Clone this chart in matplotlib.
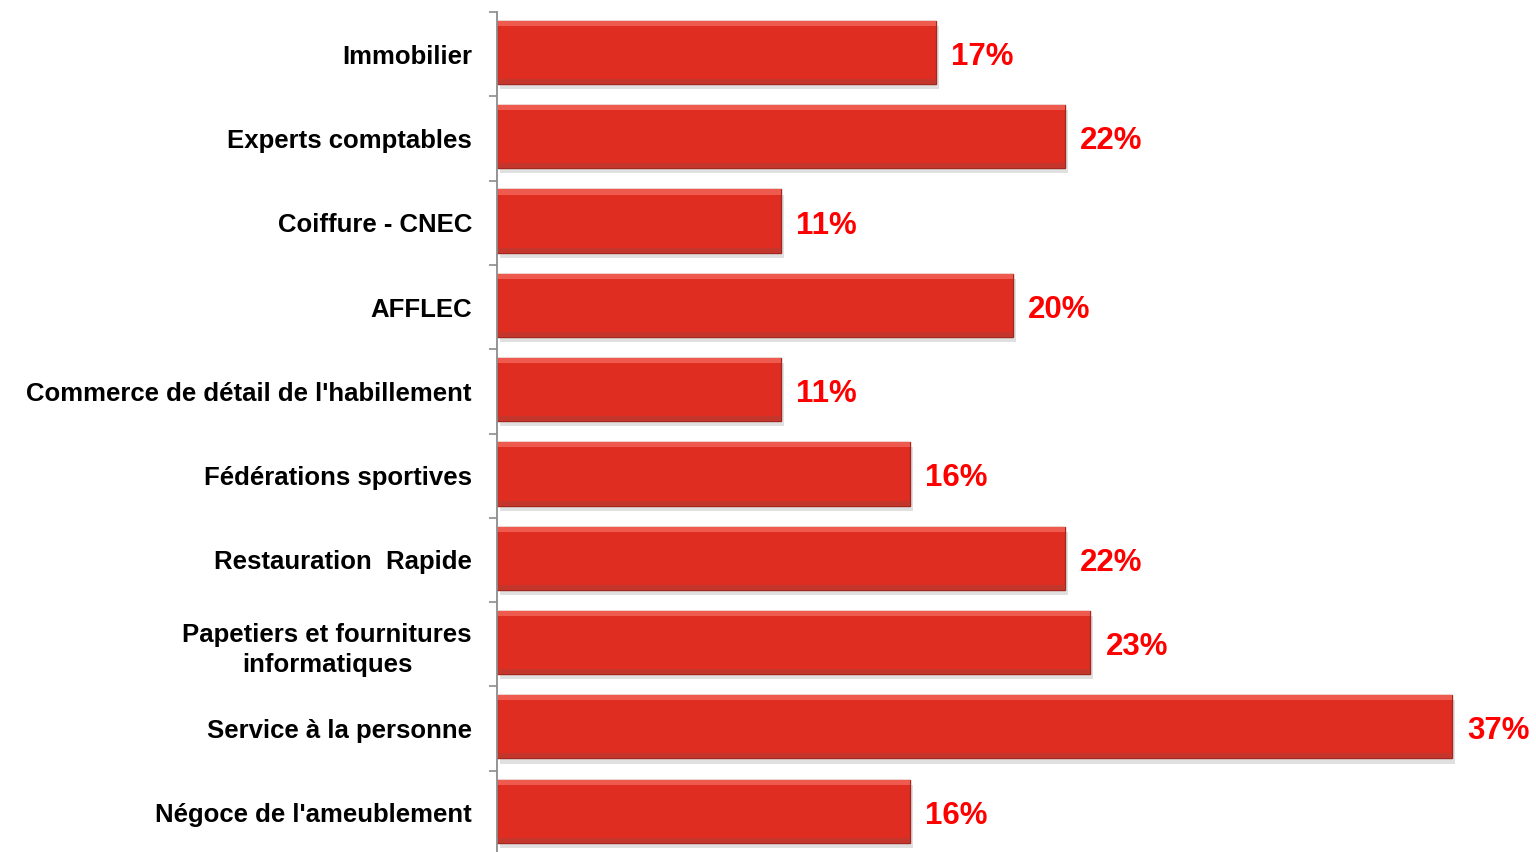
import matplotlib.pyplot as plt
import numpy as np

# Données du graphique (de haut en bas)
categories = [
    "Immobilier",
    "Experts comptables",
    "Coiffure - CNEC",
    "AFFLEC",
    "Commerce de détail de l'habillement",
    "Fédérations sportives",
    "Restauration  Rapide",
    "Papetiers et fournitures\ninformatiques",
    "Service à la personne",
    "Négoce de l'ameublement",
]
valeurs = [17, 22, 11, 20, 11, 16, 22, 23, 37, 16]

plt.rcParams['font.family'] = ['Liberation Sans', 'DejaVu Sans']

fig = plt.figure(figsize=(15.36, 8.52), dpi=100)
ax = fig.add_axes([497 / 1536, 1 - 855 / 852, 1032 / 1536, 843 / 852])

n = len(categories)
y = np.arange(n)[::-1]
h = 0.75

# ombre
ax.barh(y - 0.04, valeurs, height=h, left=0.12, color='#9a9a9a', alpha=0.3, zorder=1)
# barre principale
ax.barh(y + 0.02, valeurs, height=h, color='#E02D22', edgecolor='#A02820', linewidth=1.0, zorder=2)
# biseau haut / bas
ax.barh(y + 0.02 + h / 2 - 0.03, valeurs, height=0.06, color='#EE5A4E', linewidth=0, zorder=3)
ax.barh(y + 0.02 - h / 2 + 0.03, valeurs, height=0.06, color='#C4352C', linewidth=0, zorder=3)

for yi, v in zip(y, valeurs):
    ax.annotate(f"{v}%", xy=(v, yi), xytext=(11, -2), textcoords='offset points',
                ha='left', va='center', color='#FF0000', fontsize=22.5, fontweight='bold')

ax.set_xlim(0, 40)
ax.set_ylim(-0.5, n - 0.5)

ax.set_yticks(y)
ax.set_yticklabels(categories, fontsize=18.5, fontweight='bold')
for lab in ax.get_yticklabels():
    lab.set_multialignment('center')
    lab.set_linespacing(1.35)
ax.tick_params(axis='y', which='major', length=0, pad=18)
ax.set_yticks(np.arange(n) + 0.5, minor=True)
ax.tick_params(axis='y', which='minor', length=6, width=1.2, color='#8C8C8C', direction='out')
ax.set_xticks([])

for s in ['top', 'right', 'bottom']:
    ax.spines[s].set_visible(False)
ax.spines['left'].set_color('#8C8C8C')
ax.spines['left'].set_linewidth(1.3)
ax.spines['left'].set_zorder(5)

fig.savefig('out.png', dpi=100)
